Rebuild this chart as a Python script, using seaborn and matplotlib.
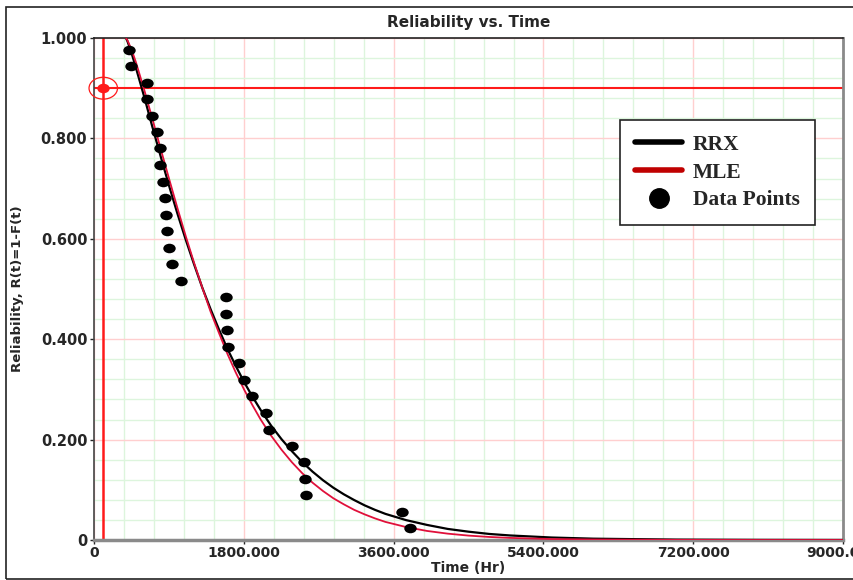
import pandas as pd
import seaborn as sns
import matplotlib.pyplot as plt
from matplotlib.ticker import MultipleLocator, FuncFormatter
from matplotlib.path import Path
from matplotlib.patches import Rectangle
from matplotlib.lines import Line2D

sns.set_style('white')

# data points (time in hr, reliability)
point_time = [421, 441, 637, 637, 690, 757, 790, 793, 829, 850,
              862, 874, 894, 930, 1046, 1579, 1583, 1599, 1611, 1739,
              1799, 1899, 2067, 2096, 2376, 2520, 2529, 2541, 3702, 3798]
point_rel = [0.977, 0.944, 0.911, 0.878, 0.845, 0.812, 0.780, 0.747, 0.714, 0.681,
             0.648, 0.615, 0.582, 0.549, 0.516, 0.484, 0.451, 0.418, 0.385, 0.352,
             0.319, 0.286, 0.253, 0.220, 0.188, 0.155, 0.122, 0.089, 0.056, 0.023]

# fitted lines
curve_time = [381, 400, 450, 500, 600, 700, 800, 900, 1000, 1100,
              1200, 1300, 1400, 1500, 1600, 1700, 1800, 1900, 2000, 2125,
              2250, 2375, 2500, 2625, 2750, 2875, 3000, 3125, 3250, 3375,
              3500, 3750, 4000, 4250, 4500, 4750, 5000, 5500, 6000, 7000,
              8000, 9000]
rrx_rel = [1.0, 0.993, 0.969, 0.941, 0.883, 0.822, 0.763, 0.705, 0.650, 0.598,
           0.549, 0.502, 0.459, 0.419, 0.381, 0.347, 0.315, 0.286, 0.259, 0.228,
           0.201, 0.177, 0.155, 0.136, 0.119, 0.104, 0.091, 0.0795, 0.069, 0.060,
           0.052, 0.0395, 0.030, 0.022, 0.0165, 0.012, 0.009, 0.0049, 0.0026, 0.0007,
           0.0002, 0.0]
mle_rel = [1.0, 0.995, 0.976, 0.952, 0.897, 0.838, 0.778, 0.719, 0.661, 0.605,
           0.552, 0.502, 0.454, 0.412, 0.371, 0.334, 0.300, 0.269, 0.240, 0.208,
           0.180, 0.155, 0.133, 0.114, 0.0975, 0.083, 0.071, 0.060, 0.051, 0.043,
           0.036, 0.0257, 0.018, 0.0126, 0.0087, 0.006, 0.0041, 0.0019, 0.0009, 0.0002,
           0.0, 0.0]

# the reliability target marker
target_time = [108]
target_rel = [0.9]

df_pts = pd.DataFrame({'t': point_time, 'R': point_rel})
df_rrx = pd.DataFrame({'t': curve_time, 'R': rrx_rel})
df_mle = pd.DataFrame({'t': curve_time, 'R': mle_rel})
df_tgt = pd.DataFrame({'t': target_time, 'R': target_rel})

fig = plt.figure(figsize=(8.54, 5.8), dpi=100)
ax = fig.add_axes([0.1104, 0.069, 0.8766, 0.8655])

# grid: green minor, pink major
ax.set_xlim(0, 9000)
ax.set_ylim(0, 1)
ax.xaxis.set_major_locator(MultipleLocator(1800))
ax.xaxis.set_minor_locator(MultipleLocator(360))
ax.yaxis.set_major_locator(MultipleLocator(0.2))
ax.yaxis.set_minor_locator(MultipleLocator(0.04))
ax.grid(which='minor', color='#ddf5dd', lw=1.0)
ax.grid(which='major', color='#ffcfcf', lw=1.0)
ax.set_axisbelow(True)

ax.axvline(target_time[0], color='#ff1a1a', lw=1.8, zorder=2)
ax.axhline(target_rel[0], color='#ff1a1a', lw=1.5, zorder=2)

circ = Path.unit_circle()
ellipse = Path(circ.vertices * [1.3, 1.0], circ.codes)

sns.lineplot(data=df_rrx, x='t', y='R', color='black', lw=1.6, estimator=None, ax=ax, zorder=3)
sns.lineplot(data=df_mle, x='t', y='R', color='#e0103a', lw=1.3, estimator=None, ax=ax, zorder=3)
sns.scatterplot(data=df_pts, x='t', y='R', marker=ellipse, s=80, color='black',
                edgecolor='black', linewidth=0, ax=ax, zorder=4)
sns.scatterplot(data=df_tgt, x='t', y='R', marker=ellipse, s=80, color='#ff1a1a',
                edgecolor='#ff1a1a', linewidth=0, ax=ax, zorder=5, clip_on=False)
sns.scatterplot(data=df_tgt, x='t', y='R', marker=ellipse, s=420, facecolor='none',
                edgecolor='#ff1a1a', linewidth=0.9, ax=ax, zorder=5, clip_on=False)

fmt = FuncFormatter(lambda v, p: '0' if abs(v) < 1e-9 else '%.3f' % v)
ax.xaxis.set_major_formatter(fmt)
ax.yaxis.set_major_formatter(fmt)
ax.tick_params(which='major', length=3, width=1, labelsize=10.5, pad=2)
ax.tick_params(axis='x', labelsize=10, pad=1)
ax.tick_params(which='minor', length=0)
ax.tick_params(axis='y', left=True)
ax.tick_params(axis='x', bottom=True)
for lab in ax.get_xticklabels() + ax.get_yticklabels():
    lab.set_fontweight('bold')

ax.set_title('Reliability vs. Time', fontsize=11, fontweight='bold', pad=8)
ax.set_xlabel('Time (Hr)', fontsize=10, fontweight='bold', labelpad=1)
ax.set_ylabel('Reliability, R(t)=1-F(t)', fontsize=9.5, fontweight='bold', labelpad=12)

ax.spines['top'].set_color('#222222')
ax.spines['top'].set_linewidth(1.2)
ax.spines['left'].set_color('#444444')
ax.spines['left'].set_linewidth(1.2)
ax.spines['bottom'].set_color('#8a8a8a')
ax.spines['bottom'].set_linewidth(2.5)
ax.spines['right'].set_color('#8a8a8a')
ax.spines['right'].set_linewidth(2)

handles = [Line2D([], [], color='black', lw=4),
           Line2D([], [], color='#c00000', lw=4),
           Line2D([], [], ls='', marker='o', color='black', markersize=14)]
leg = ax.legend(handles, ['RRX', 'MLE', 'Data Points'], loc='upper left',
                bbox_to_anchor=(0.702, 0.837), borderaxespad=0, frameon=True,
                fancybox=False, framealpha=1, edgecolor='#222222', handlelength=2.2,
                handletextpad=0.5, borderpad=0.7, labelspacing=0.35,
                prop={'family': 'Liberation Serif', 'weight': 'bold', 'size': 15.5})
leg.get_frame().set_linewidth(1.2)

# outer frame of the picture
fig.add_artist(Rectangle((6 / 854, 1 / 580), 860 / 854, 572 / 580, fill=False,
                         edgecolor='#222222', lw=1.2, transform=fig.transFigure))

fig.savefig('out.png', dpi=100)
